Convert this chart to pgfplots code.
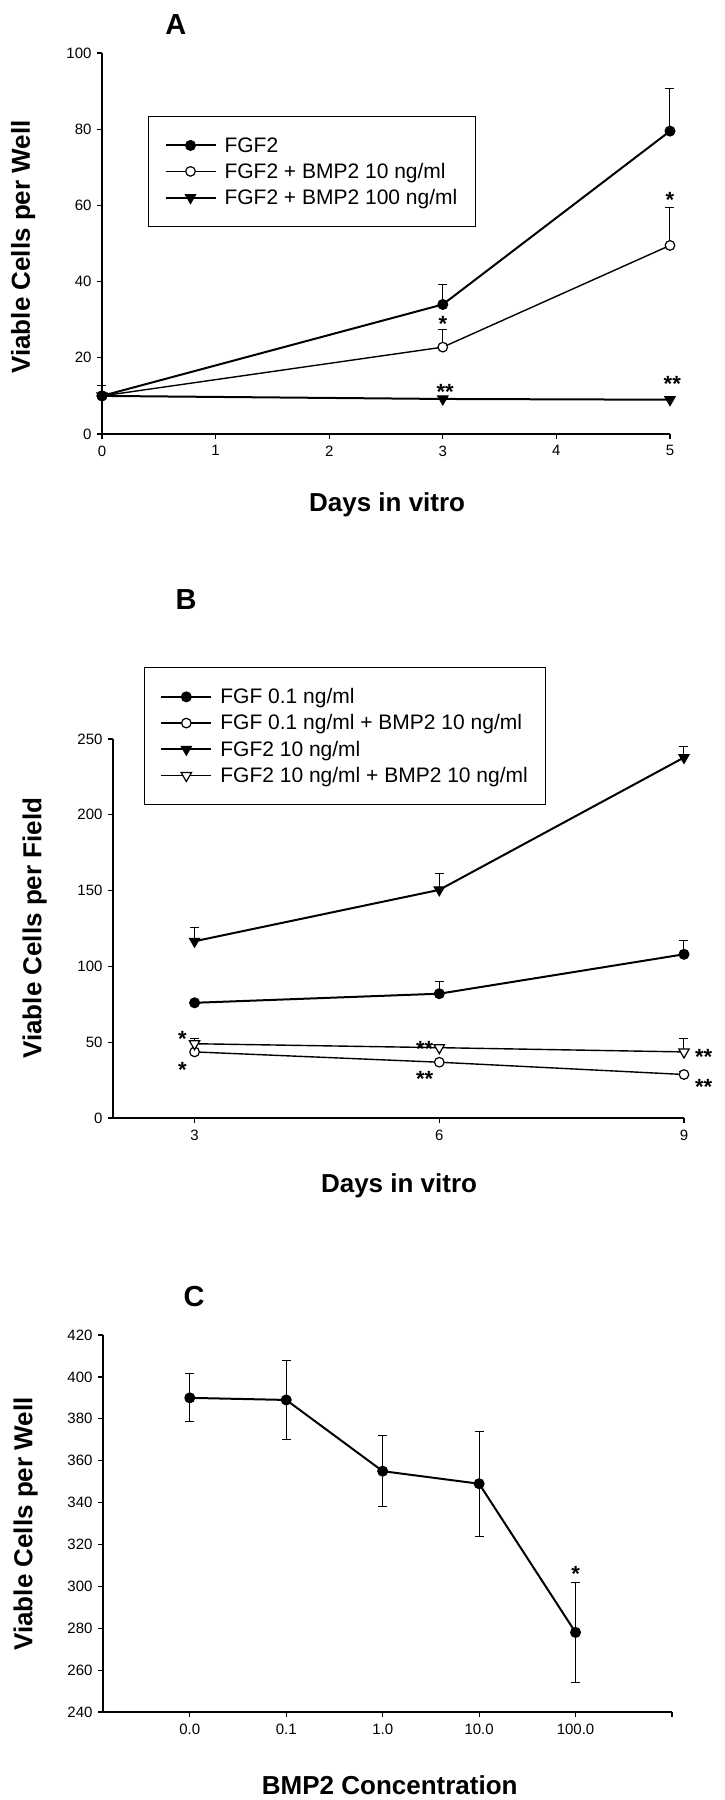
\documentclass[border=0pt]{standalone}
\usepackage{fontspec}
\setmainfont{Liberation Sans}
\usepackage{pgfplots}
\pgfplotsset{compat=1.18}

\pgfplotsset{
  panel/.style={
    scale only axis,
    axis x line=bottom, axis y line=left,
    axis line style={-, line width=1.2pt},
    tick align=outside, major tick length=5pt,
    every tick/.style={black, line width=1.2pt},
    tick label style={font=\fontsize{15}{18}\selectfont},
    xticklabel style={yshift=-3pt},
    yticklabel style={xshift=-2pt},
    /pgf/number format/assume math mode=true,
    label style={font=\bfseries\fontsize{26}{30}\selectfont},
    clip=false,
    legend cell align=left,
    legend image code/.code={\draw[mark repeat=2,mark phase=2,##1] plot coordinates {(0pt,0pt) (25pt,0pt) (50pt,0pt)};},
    legend style={draw=black, line width=1pt, font=\fontsize{21}{24}\selectfont,
      row sep=5.5pt, column sep=6pt, inner xsep=16pt, inner ysep=19pt, anchor=north west},
    error bars/y explicit,
    error bars/error bar style={line width=1pt},
    error bars/error mark options={rotate=90, mark size=4.5pt, line width=1pt},
  },
  fcirc/.style={black, line width=2pt, mark=*, mark size=5pt, mark options={solid, fill=black, line width=1pt}},
  ocirc/.style={black, line width=1.4pt, mark=*, mark size=4.8pt, mark options={solid, fill=white, line width=1.2pt}},
  ftri/.style={black, line width=2pt, mark=triangle*, mark size=6pt, mark options={solid, rotate=180, fill=black, line width=1pt}},
  otri/.style={black, line width=1.4pt, mark=triangle*, mark size=6pt, mark options={solid, rotate=180, fill=white, line width=1.2pt}},
}
\tikzset{
  astk/.style={font=\bfseries\fontsize{22}{22}\selectfont, yshift=-4.5pt},
  ptitle/.style={font=\bfseries\fontsize{29}{30}\selectfont},
}

\begin{document}
\begin{tikzpicture}
\path[use as bounding box] (0,0) rectangle (724pt,-1800pt);

% ---------------- A ----------------
\begin{axis}[panel, at={(102pt,-434pt)}, anchor=south west, width=568pt, height=381pt,
  xmin=0, xmax=5, ymin=0, ymax=100, xtick={0,...,5}, ytick={0,20,...,100},
  error bars/y dir=plus,
  xlabel={Days in vitro}, ylabel={Viable Cells per Well},
  xlabel style={at={(axis description cs:0.502,-0.186)}, anchor=center},
  ylabel style={at={(axis description cs:-0.139,0.491)}, anchor=center},
  legend style={at={(0.081,0.835)}}, reverse legend]
\addplot[ftri] coordinates {(0,10) +- (0,0) (3,9.2) +- (0,0.6) (5,9) +- (0,0.8)};
\addlegendentry{FGF2 + BMP2 100 ng/ml}
\addplot[ocirc] coordinates {(0,10) +- (0,0) (3,22.8) +- (0,4.5) (5,49.5) +- (0,10)};
\addlegendentry{FGF2 + BMP2 10 ng/ml}
\addplot[fcirc] coordinates {(0,10) +- (0,2.8) (3,34) +- (0,5.2) (5,79.5) +- (0,11.3)};
\addlegendentry{FGF2}
\node[astk] at (axis cs:3,30.2) {*};
\node[astk] at (axis cs:5,62.7) {*};
\node[astk] at (axis cs:3.02,12.3) {**};
\node[astk] at (axis cs:5.02,14.2) {**};
\node[ptitle] at (axis description cs:0.13,1.076) {A};
\end{axis}

% ---------------- B ----------------
\begin{axis}[panel, at={(113pt,-1118pt)}, anchor=south west, width=571pt, height=379pt,
  xmin=2, xmax=9, ymin=0, ymax=250, xtick={3,6,9}, ytick={0,50,...,250},
  error bars/y dir=plus,
  xlabel={Days in vitro}, ylabel={Viable Cells per Field},
  xlabel style={at={(axis description cs:0.501,-0.179)}, anchor=center},
  ylabel style={at={(axis description cs:-0.137,0.501)}, anchor=center},
  legend style={at={(0.054,1.19)}}]
\addplot[fcirc] coordinates {(3,76) +- (0,0.8) (6,82) +- (0,8) (9,108) +- (0,9)};
\addlegendentry{FGF 0.1 ng/ml}
\addplot[ocirc] coordinates {(3,43.6) +- (0,0.5) (6,36.8) +- (0,0.5) (9,28.7) +- (0,2)};
\addlegendentry{FGF 0.1 ng/ml + BMP2 10 ng/ml}
\addplot[ftri] coordinates {(3,116.6) +- (0,8.9) (6,150.5) +- (0,10.5) (9,237.8) +- (0,7)};
\addlegendentry{FGF2 10 ng/ml}
\addplot[otri] coordinates {(3,49) +- (0,3.5) (6,46.4) +- (0,1) (9,43.6) +- (0,9)};
\addlegendentry{FGF2 10 ng/ml + BMP2 10 ng/ml}
\node[astk] at (axis cs:2.85,55.4) {*};
\node[astk] at (axis cs:2.85,35) {*};
\node[astk] at (axis cs:5.82,48.8) {**};
\node[astk] at (axis cs:5.82,29) {**};
\node[astk] at (axis cs:9.24,43.5) {**};
\node[astk] at (axis cs:9.24,23.7) {**};
\node[ptitle] at (axis description cs:0.128,1.367) {B};
\end{axis}

% ---------------- C ----------------
\begin{axis}[panel, at={(103pt,-1712pt)}, anchor=south west, width=569pt, height=377pt,
  xmin=-0.9, xmax=5, ymin=240, ymax=420, xtick={0,...,5},
  xticklabels={0.0,0.1,1.0,10.0,100.0,{}}, ytick={240,260,...,420},
  error bars/y dir=both,
  xlabel={BMP2 Concentration}, ylabel={Viable Cells per Well},
  xlabel style={at={(axis description cs:0.504,-0.194)}, anchor=center},
  ylabel style={at={(axis description cs:-0.136,0.499)}, anchor=center}]
\addplot[fcirc] coordinates {(0,390) +- (0,11.4) (1,389) +- (0,19) (2,355) +- (0,17) (3,349) +- (0,25) (4,278) +- (0,24)};
\node[astk] at (axis cs:4,308) {*};
\node[ptitle] at (axis description cs:0.16,1.103) {C};
\end{axis}
\end{tikzpicture}
\end{document}
